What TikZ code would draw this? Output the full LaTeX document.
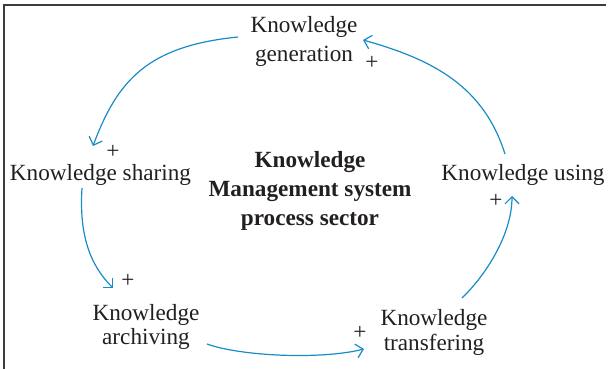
\documentclass[tikz,border=0pt]{standalone}
\usepackage{fontspec}
\setmainfont{Liberation Serif}
\usetikzlibrary{arrows.meta}
\definecolor{arrowblue}{RGB}{24,140,196}
\definecolor{txt}{RGB}{35,31,32}
\definecolor{framecol}{RGB}{60,60,60}
\tikzset{
  lbl/.style={font=\fontsize{11.6}{14.5}\selectfont, text=txt, inner sep=0pt, align=center},
  ttl/.style={lbl, font=\fontsize{11.6}{14.25}\selectfont\bfseries},
  plus/.style={font=\fontsize{11.6}{14}\selectfont, text=txt, inner sep=0pt},
  link/.style={draw=arrowblue, line width=0.6pt, -{Straight Barb[length=3.5pt,width=7pt]}},
  framestyle/.style={draw=framecol, line width=0.75pt}
}
\begin{document}
\begin{tikzpicture}[x=0.5pt, y=-0.5pt]
\useasboundingbox (0,0) rectangle (616,369);
\draw[framestyle] (4,369) -- (4,5) -- (606,5);

\node[lbl, anchor=base] (gen) at (304,62) {Knowledge\\generation};
\node[lbl, anchor=base] (share) at (100.5,181) {Knowledge sharing};
\node[lbl, anchor=base] (use) at (523,181) {Knowledge using};
\node[lbl, font=\fontsize{11.6}{10.5}\selectfont, anchor=base] (arch) at (146,344) {Knowledge\\archiving};
\node[lbl, font=\fontsize{11.6}{12.5}\selectfont, anchor=base] (trans) at (434,350) {Knowledge\\transfering};
\node[ttl, anchor=base] (kms) at (310,225) {Knowledge\\Management system\\process sector};

\node[plus] (p1) at (372,63) {+};
\node[plus] (p2) at (113,152) {+};
\node[plus] (p3) at (128,281) {+};
\node[plus] (p4) at (360,333) {+};
\node[plus] (p5) at (496,201) {+};

\coordinate (g1) at (238,37);
\coordinate (s1) at (93,146);
\coordinate (s2) at (82,188);
\coordinate (a1) at (113,288);
\coordinate (a2) at (207,344);
\coordinate (t1) at (364,349);
\coordinate (t2) at (462,298);
\coordinate (u1) at (512,196);
\coordinate (u2) at (505,154);
\coordinate (g2) at (363,40);

\draw[link] (g1) .. controls (148,46) and (117.5,80) .. (s1);
\draw[link] (s2) .. controls (79,235) and (90,265) .. (a1);
\draw[link] (a2) .. controls (240,356) and (320,360) .. (t1);
\draw[link] (t2) .. controls (485,276) and (512,235) .. (u1);
\draw[link] (u2) .. controls (484,87.5) and (435,60) .. (g2);
\end{tikzpicture}
\end{document}
